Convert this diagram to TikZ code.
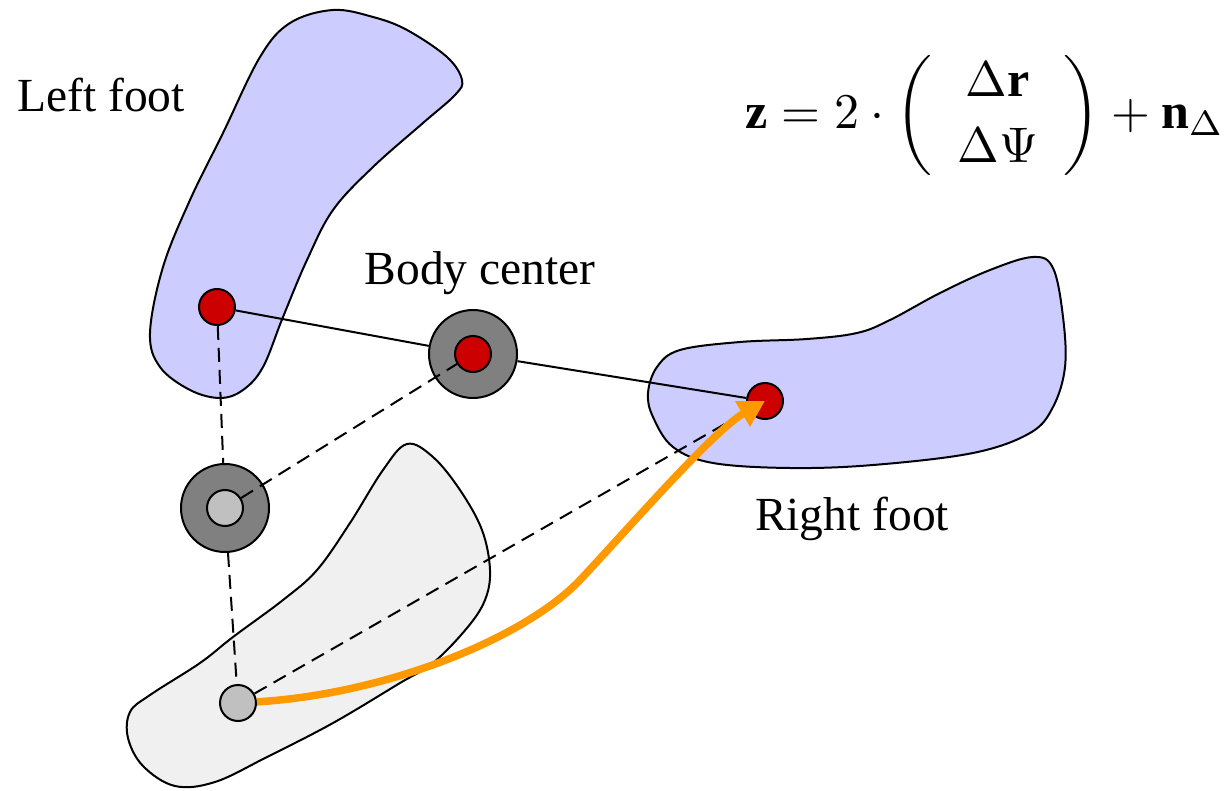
\documentclass[tikz,border=0pt]{standalone}
\usepackage{fontspec}
\setmainfont{Liberation Serif}
\usetikzlibrary{arrows.meta}
\definecolor{footblue}{HTML}{CCCCFF}
\definecolor{footgray}{HTML}{F0F0F0}
\definecolor{dotred}{HTML}{CC0000}
\definecolor{ringgray}{HTML}{808080}
\definecolor{dotgray}{HTML}{C0C0C0}
\definecolor{arroworange}{HTML}{FF9900}
\begin{document}
\begin{tikzpicture}[x=1pt,y=-1pt,
  foot/.style={draw=black,line width=2pt},
  dot/.style={circle,draw=black,line width=2pt,inner sep=0pt,minimum size=36pt},
  ring/.style={circle,draw=black,line width=2pt,inner sep=0pt,minimum size=88pt,fill=ringgray},
  solidlink/.style={draw=black,line width=2pt},
  dashlink/.style={draw=black,line width=2pt,dash pattern=on 14pt off 8pt},
  motion/.style={draw=arroworange,line width=7.5pt,-{Triangle[length=26pt,width=28pt]}},
  lbl/.style={font=\fontsize{47.5}{57}\selectfont,inner sep=0pt}]
\useasboundingbox (0,0) rectangle (1231,791);
% feet
\draw[foot,fill=footblue] plot[smooth cycle,tension=0.6] coordinates {
 (333,10) (373,17) (407,30) (447,57) (462,80) (455,95) (423,123) (373,167)
 (333,210) (307,260) (283,317) (263,367) (243,390) (220,398) (190,390)
 (160,367) (150,333) (163,267) (190,200) (223,133) (260,57) (290,23)};
\draw[foot,fill=footblue] plot[smooth cycle,tension=0.6] coordinates {
 (1033,257) (1053,268) (1063,317) (1065,367) (1053,407) (1030,433) (973,453)
 (873,465) (790,468) (713,463) (673,447) (653,417) (648,393) (657,367)
 (680,350) (740,342) (807,339) (857,333) (890,320) (940,293) (990,270)};
\draw[foot,fill=footgray] plot[smooth cycle,tension=0.6] coordinates {
 (407,444) (433,457) (460,490) (482,530) (490,570) (485,600) (467,628)
 (433,663) (400,683) (333,723) (267,757) (215,782) (175,786) (143,766)
 (128,738) (130,712) (150,695) (200,663) (233,637) (283,600) (317,570)
 (350,523) (383,470)};
% nodes
\node[dot,fill=dotred] (lf) at (217,307) {};
\node[ring] (bcring) at (473,354) {};
\node[ring] (obring) at (225,508) {};
\node[dot,fill=dotgray] (gd) at (238,703) {};
\node[dot,fill=dotred] (rf) at (765,401) {};
% links
\draw[solidlink] (lf) -- (bcring);
\draw[solidlink] (bcring) -- (rf);
\draw[dashlink] (lf) -- (obring);
\draw[dashlink] (obring) -- (gd);
\draw[dashlink] (gd) -- (rf);
\node[dot,fill=dotred] (bc) at (bcring.center) {};
\node[dot,fill=dotgray] (ob) at (obring.center) {};
\draw[dashlink] (ob) -- (bc);
% motion arrow
\coordinate (mid) at (580,580);
\draw[motion] (gd) .. controls (387,694) and (525,638) .. (mid)
  .. controls (628,529) and (713,431) .. (rf.center);
% labels
\node[lbl,anchor=base] (llf) at (101,112) {Left foot};
\node[lbl,anchor=base] (lbc) at (480,285) {Body center};
\node[lbl,anchor=base] (lrf) at (852,530) {Right foot};
\node[scale=5.0,inner sep=0pt] (eq) at (985,116)
  {\renewcommand{\arraystretch}{1.1}$\mathbf{z}=2\cdot\left(\begin{array}{c}\Delta\mathbf{r}\\ \Delta\Psi\end{array}\right)+\mathbf{n}_\Delta$};
\end{tikzpicture}
\end{document}
